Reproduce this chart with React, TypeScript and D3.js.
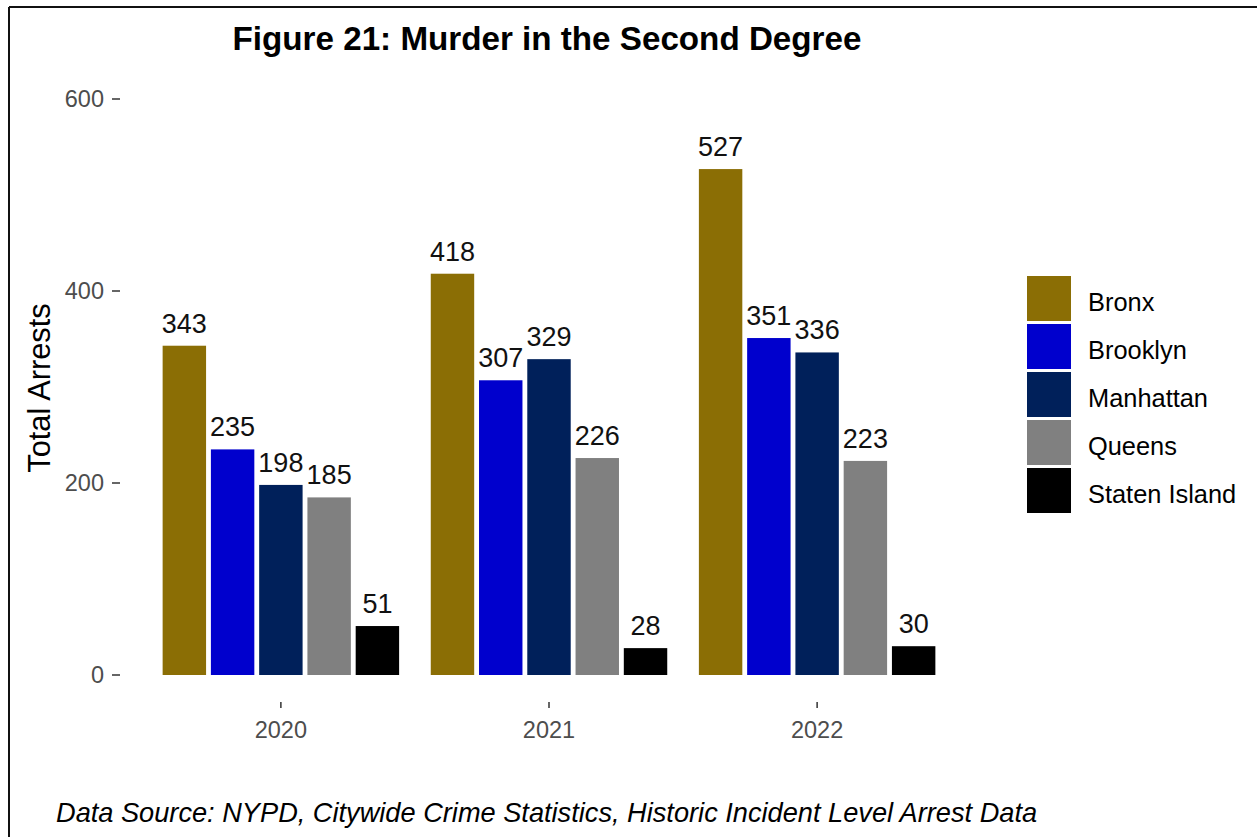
import React from "react";
import * as d3 from "d3";

const years = ["2020", "2021", "2022"];
const boroughs = ["Bronx", "Brooklyn", "Manhattan", "Queens", "Staten Island"];
const bronx = [343, 418, 527];
const brooklyn = [235, 307, 351];
const manhattan = [198, 329, 336];
const queens = [185, 226, 223];
const statenIsland = [51, 28, 30];
const yTicks = [0, 200, 400, 600];
const colors = ["#8B6E05", "#0000CD", "#00205A", "#808080", "#000000"];

const seriesValues = [bronx, brooklyn, manhattan, queens, statenIsland];

const W = 1257;
const H = 837;
const FONT = "Arial, 'Liberation Sans', Helvetica, sans-serif";

export default function App() {
  const x0 = d3
    .scaleBand<string>()
    .domain(years)
    .range([120, 978])
    .paddingInner(0.1)
    .paddingOuter(0.15);
  const x1 = d3
    .scaleBand<string>()
    .domain(boroughs)
    .range([0, x0.bandwidth()])
    .paddingInner(0.1)
    .paddingOuter(0.05);
  const y = d3.scaleLinear().domain([0, 600]).range([675, 99]);

  const bars: { year: string; b: string; v: number; c: string }[] = [];
  years.forEach((yr, i) => {
    boroughs.forEach((b, j) => {
      bars.push({ year: yr, b, v: seriesValues[j][i], c: colors[j] });
    });
  });

  const legendX = 1027;
  const legendY = 276;
  const keyStep = 48;
  const keyW = 44;
  const keyH = 45;

  return (
    <svg
      width={W}
      height={H}
      style={{ position: "absolute", left: 0, top: 0, background: "#fff" }}
      fontFamily={FONT}
    >
      <rect x={0} y={0} width={W} height={H} fill="#fff" />
      {/* border */}
      <line x1={9} y1={7} x2={W} y2={7} stroke="#111" strokeWidth={2} />
      <line x1={9} y1={7} x2={9} y2={H} stroke="#111" strokeWidth={2} />

      {/* title */}
      <text
        x={547}
        y={50}
        textAnchor="middle"
        fontSize={33.2}
        fontWeight="bold"
        fill="#000"
      >
        Figure 21: Murder in the Second Degree
      </text>

      {/* y axis */}
      {yTicks.map((t) => (
        <g key={t}>
          <line x1={112} x2={120} y1={y(t)} y2={y(t)} stroke="#333" strokeWidth={1.5} />
          <text
            x={104}
            y={y(t)}
            dy="0.36em"
            textAnchor="end"
            fontSize={23.5}
            fill="#4d4d4d"
          >
            {t}
          </text>
        </g>
      ))}
      <text
        transform={`translate(50,388) rotate(-90)`}
        textAnchor="middle"
        fontSize={30.8}
        fill="#000"
      >
        Total Arrests
      </text>

      {/* x axis */}
      {years.map((yr) => {
        const cx = (x0(yr) ?? 0) + x0.bandwidth() / 2;
        return (
          <g key={yr}>
            <line x1={cx} x2={cx} y1={702} y2={708} stroke="#333" strokeWidth={1.5} />
            <text x={cx} y={738} textAnchor="middle" fontSize={23.5} fill="#4d4d4d">
              {yr}
            </text>
          </g>
        );
      })}

      {/* bars */}
      {bars.map((d) => {
        const bx = (x0(d.year) ?? 0) + (x1(d.b) ?? 0);
        return (
          <g key={d.year + d.b}>
            <rect
              x={bx}
              y={y(d.v)}
              width={x1.bandwidth()}
              height={y(0) - y(d.v)}
              fill={d.c}
            />
            <text
              x={bx + x1.bandwidth() / 2}
              y={y(d.v) - 13}
              textAnchor="middle"
              fontSize={27}
              fill="#111"
            >
              {d.v}
            </text>
          </g>
        );
      })}

      {/* legend */}
      {boroughs.map((b, j) => (
        <g key={b}>
          <rect
            x={legendX}
            y={legendY + j * keyStep}
            width={keyW}
            height={keyH}
            fill={colors[j]}
          />
          <text
            x={1088}
            y={legendY + j * keyStep + keyH / 2 + 3}
            dy="0.36em"
            fontSize={25.4}
            fill="#000"
          >
            {b}
          </text>
        </g>
      ))}

      {/* caption */}
      <text x={56} y={822} fontSize={27.2} fontStyle="italic" fill="#000">
        Data Source: NYPD, Citywide Crime Statistics, Historic Incident Level Arrest Data
      </text>
    </svg>
  );
}
